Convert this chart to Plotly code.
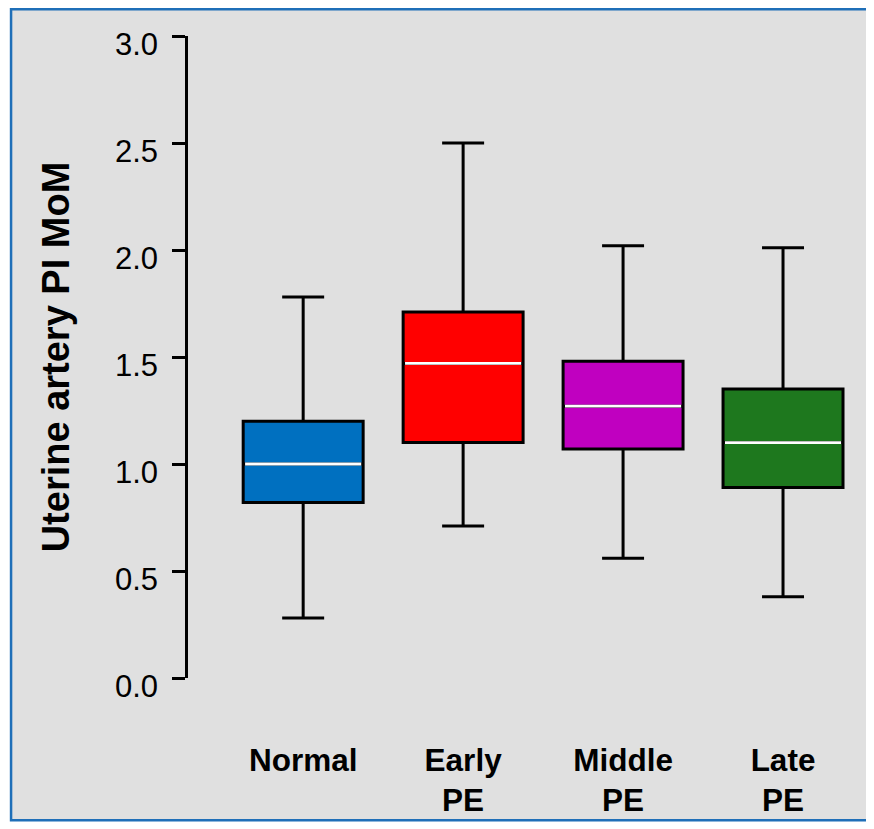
import plotly.graph_objects as go

categories = ["Normal", "Early<br>PE", "Middle<br>PE", "Late<br>PE"]
lower_whisker = [0.28, 0.71, 0.56, 0.38]
q1 = [0.82, 1.10, 1.07, 0.89]
median = [1.00, 1.47, 1.27, 1.10]
q3 = [1.20, 1.71, 1.48, 1.35]
upper_whisker = [1.78, 2.50, 2.02, 2.01]
colors = ["#0070c0", "#ff0000", "#c000c0", "#1e781e"]
y_ticks = [0.0, 0.5, 1.0, 1.5, 2.0, 2.5, 3.0]

# page body has an 8px margin, so the figure is offset by 8px
OFF = 8
W, H = 874 - OFF, 829 - OFF
L, T = 188 - OFF, 36 - OFF
plot_h = 645
B = H - T - plot_h
x_range = [-0.72, 3.5]
plot_w = 675.2
R = W - L - plot_w

fig = go.Figure()
box_w = 0.75
for i, cat in enumerate(categories):
    fig.add_trace(go.Box(
        x=[i], q1=[q1[i]], median=[median[i]], q3=[q3[i]],
        lowerfence=[lower_whisker[i]], upperfence=[upper_whisker[i]],
        fillcolor=colors[i], line=dict(color="black", width=3),
        width=box_w, whiskerwidth=0.35, boxpoints=False,
        showlegend=False, hoverinfo="skip",
    ))
    fig.add_trace(go.Scatter(
        x=[i - box_w / 2 + 0.012, i + box_w / 2 - 0.012], y=[median[i], median[i]],
        mode="lines", line=dict(color="white", width=2.8),
        showlegend=False, hoverinfo="skip",
    ))

def px_x(p):
    return (p - OFF - L) / plot_w

def px_y(p):
    return (H - B - (p - OFF)) / plot_h

fig.add_shape(type="rect", xref="paper", yref="paper",
              x0=px_x(11), x1=px_x(871), y0=px_y(824), y1=px_y(9),
              fillcolor="#e0e0e0", line=dict(color="#1f6fb8", width=2.5),
              layer="below")

fig.update_layout(
    width=W, height=H,
    margin=dict(l=L, r=R, t=T, b=B, pad=0),
    paper_bgcolor="white",
    plot_bgcolor="rgba(0,0,0,0)",
    font=dict(family="Liberation Sans, Arial, sans-serif", color="black"),
    xaxis=dict(
        range=x_range, tickmode="array", tickvals=list(range(len(categories))),
        ticktext=[f"<b>{c}</b>" for c in categories],
        tickfont=dict(size=31.5, color="black"),
        showgrid=False, zeroline=False, showline=False, ticks="",
        ticklabelstandoff=60,
    ),
    yaxis=dict(
        range=[0, 3], tickmode="array", tickvals=y_ticks,
        tickformat=".1f", tickfont=dict(size=31, color="black"),
        showgrid=False, zeroline=False, showline=True,
        linecolor="black", linewidth=2.5,
        ticks="outside", ticklen=13, tickwidth=2.5, tickcolor="black",
        ticklabelstandoff=8, ticklabelshift=8,
        title=dict(text="<b>Uterine artery PI MoM</b>", font=dict(size=38, color="black"),
                   standoff=34),
    ),
)

fig.write_html("out.html")
